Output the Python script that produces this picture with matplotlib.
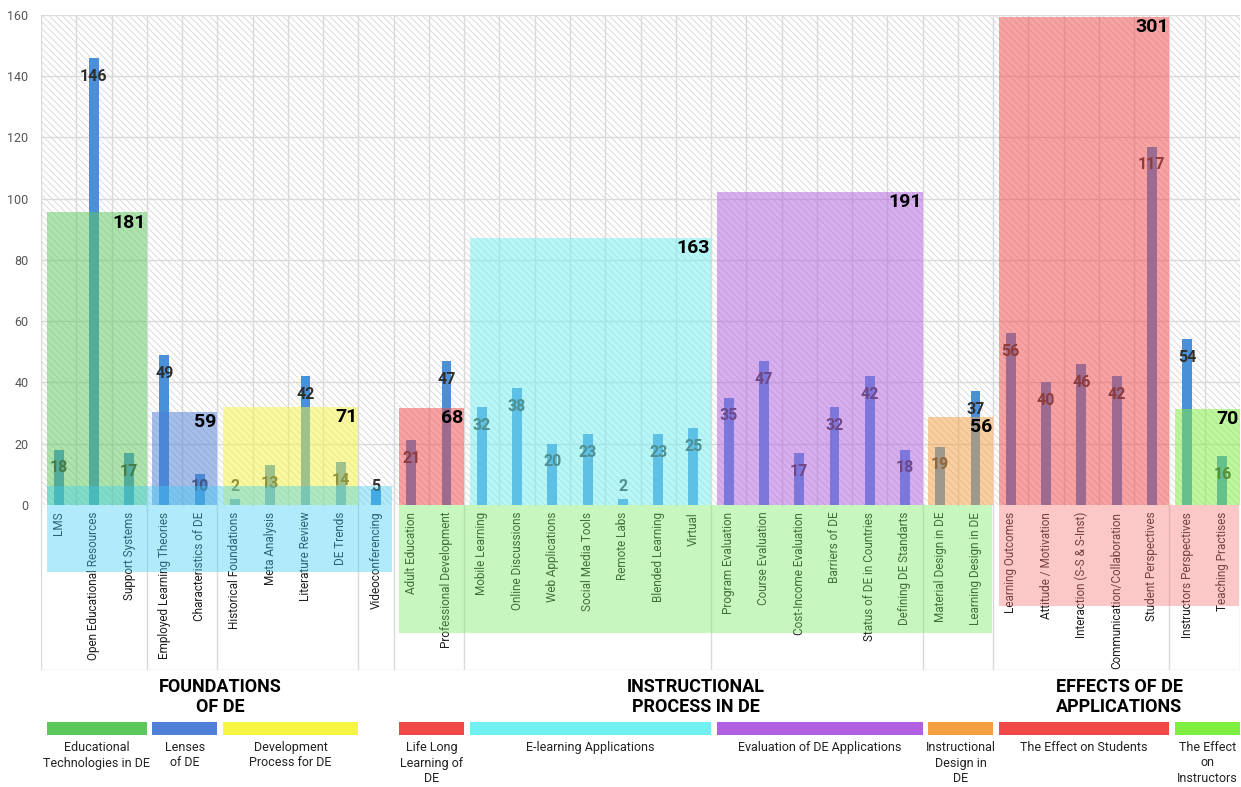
import matplotlib.pyplot as plt
from matplotlib.patches import Rectangle

plt.rcParams['font.family'] = ['Roboto', 'DejaVu Sans']
plt.rcParams['hatch.linewidth'] = 0.6
plt.rcParams['hatch.color'] = '#d6d6d6'

# topics and number of studies
topics = ['LMS', 'Open Educational Resources', 'Support Systems', 'Employed Learning Theories',
          'Characteristics of DE', 'Historical Foundations', 'Meta Analysis', 'Literature Review',
          'DE Trends', 'Videoconferencing', 'Adult Education', 'Professional Development',
          'Mobile Learning', 'Online Discussions', 'Web Applications', 'Social Media Tools',
          'Remote Labs', 'Blended Learning', 'Virtual', 'Program Evaluation', 'Course Evaluation',
          'Cost-Income Evaluation', 'Barriers of DE', 'Status of DE in Countries',
          'Defining DE Standarts', 'Material Design in DE', 'Learning Design in DE',
          'Learning Outcomes', 'Attitude / Motivation', 'Interaction (S-S & S-Inst)',
          'Communication/Collaboration', 'Student Perspectives', 'Instructors Perspectives',
          'Teaching Practises']
counts = [18, 146, 17, 49, 10, 2, 13, 42, 14, 5, 21, 47, 32, 38, 20, 23, 2, 23, 25,
          35, 47, 17, 32, 42, 18, 19, 37, 56, 40, 46, 42, 117, 54, 16]

# sub groups
group_names = ['Educational\nTechnologies in DE', 'Lenses\nof DE', 'Development\nProcess for DE',
               'Life Long\nLearning of\nDE', 'E-learning Applications',
               'Evaluation of DE Applications', 'Instructional\nDesign in\nDE',
               'The Effect on Students', 'The Effect\non\nInstructors']
group_first = [0, 3, 5, 10, 12, 19, 25, 27, 32]
group_last = [2, 4, 8, 11, 18, 24, 26, 31, 33]
group_heights = [95.5, 30.4, 32, 31.7, 87.2, 102.2, 28.8, 159.5, 31.4]
group_colors = ['#5cc85c', '#4f7fd6', '#f5f542', '#f04848', '#70f0f0',
                '#b060e0', '#f5a040', '#f04848', '#80f040']

# main sections
section_names = ['FOUNDATIONS\nOF DE', 'INSTRUCTIONAL\nPROCESS IN DE', 'EFFECTS OF DE\nAPPLICATIONS']
section_first = [0, 10, 27]
section_last = [9, 26, 33]
band_top = [6, 0, 0]
band_bottom = [-22, -42, -33]
band_colors = ['#3ecff5', '#75eb61', '#f77575']

n = len(topics)
fig = plt.figure(figsize=(12.41, 7.87), dpi=100)
ax = fig.add_axes([41/1241, 1-670/787, 1199/1241, 655/787])
ax.set_xlim(-0.5, n-0.5)
ax.set_ylim(-54, 160)

# hatched background
ax.add_patch(Rectangle((-0.5, 0), n, 160, facecolor='white', edgecolor='#d6d6d6',
                       hatch='\\\\\\\\\\', linewidth=0, zorder=0))
for yv in range(20, 161, 20):
    ax.plot([-0.5, n-0.5], [yv, yv], color='#dadada', lw=1, zorder=1)
for i in range(n+1):
    ax.plot([i-0.5, i-0.5], [0, 160], color='#dadada', lw=1, zorder=1)
dividers = sorted(set([f-0.5 for f in group_first] + [l+0.5 for l in group_last]))
for d in dividers:
    ax.plot([d, d], [-54, 0], color='#dadada', lw=1, zorder=1)
ax.plot([-0.5, n-0.5], [-54, -54], color='#dadada', lw=1, zorder=1)

# bars and labels
ax.bar(range(n), counts, width=0.28, color='#4a90d9', zorder=2)
for i, v in enumerate(counts):
    ax.text(i, max(v-6, 6), str(v), ha='center', va='center', fontsize=11.5,
            fontweight='bold', color='#2e2e2e', zorder=2.5)
    ax.text(i, -2.3, topics[i], rotation=90, ha='center', va='top', fontsize=8.5,
            color='#1e1e1e', zorder=2.5)

# group boxes
for f, l, h, c in zip(group_first, group_last, group_heights, group_colors):
    ax.add_patch(Rectangle((f-0.34, 0), l-f+0.84, h, facecolor=c, alpha=0.5,
                           linewidth=0, zorder=3))
    total = sum(counts[f:l+1])
    ax.text(l+0.47, h-0.5, str(total), ha='right', va='top', fontsize=14,
            fontweight='bold', color='black', zorder=4)

# section bands under the labels
for f, l, t, b, c in zip(section_first, section_last, band_top, band_bottom, band_colors):
    ax.add_patch(Rectangle((f-0.34, b), l-f+0.8, t-b, facecolor=c, alpha=0.4,
                           linewidth=0, zorder=3))

for s in ax.spines.values():
    s.set_visible(False)
ax.set_xticks([])
ax.set_yticks(range(0, 161, 20))
ax.tick_params(axis='y', length=0, labelsize=9, labelcolor='#555555', pad=9)

# bottom legend
ax2 = fig.add_axes([41/1241, 0, 1199/1241, 115/787])
ax2.set_xlim(-0.5, n-0.5)
ax2.set_ylim(787, 672)
ax2.axis('off')
for name, f, l in zip(section_names, section_first, section_last):
    ax2.text((f-0.34+l+0.5)/2, 697, name, ha='center', va='center', fontsize=13,
             fontweight='bold', linespacing=1.2)
for name, f, l, c in zip(group_names, group_first, group_last, group_colors):
    ax2.add_patch(Rectangle((f-0.34, 722), l-f+0.84, 13, facecolor=c, linewidth=0))
    ax2.text((f-0.34+l+0.5)/2, 741, name, ha='center', va='top', fontsize=9,
             color='#222222', linespacing=1.25)

fig.savefig('out.png', dpi=100)
